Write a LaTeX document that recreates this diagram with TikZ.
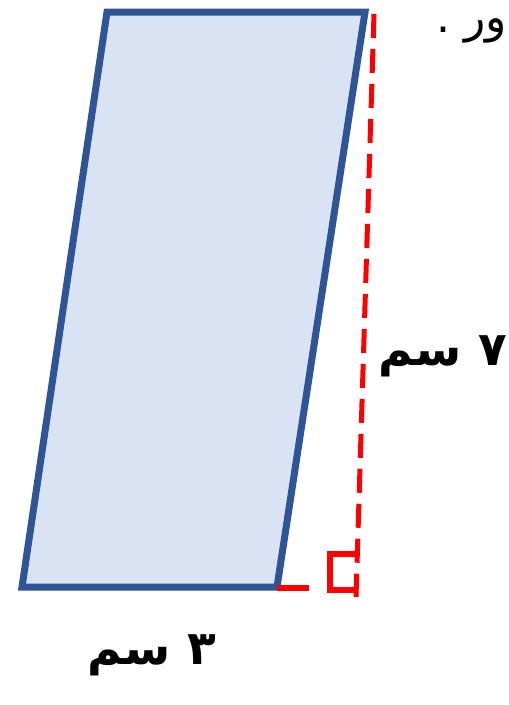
\documentclass[tikz,border=0pt]{standalone}
\usepackage{fontspec}
\TeXXeTstate=1
\newfontfamily\arabicfont[Script=Arabic]{DejaVu Sans}
\definecolor{pgblue}{HTML}{2F5597}
\definecolor{pgfill}{HTML}{DAE3F3}
\definecolor{hred}{HTML}{FF0000}
\begin{document}
\begin{tikzpicture}[x=1pt,y=-1pt,
  shapeline/.style={draw=pgblue,line width=7pt,fill=pgfill,line join=miter},
  heightline/.style={draw=hred,line width=5pt,dash pattern=on 24pt off 11pt},
  redline/.style={draw=hred,line width=6pt},
  lbl/.style={inner sep=0pt,font=\arabicfont\bfseries\fontsize{47}{50}\selectfont},
  toplbl/.style={inner sep=0pt,font=\arabicfont\fontsize{44}{48}\selectfont}]
\useasboundingbox (0,0) rectangle (509,705);
\fill[white] (0,0) rectangle (509,705);
\coordinate (A) at (107,12);
\coordinate (B) at (365,12);
\coordinate (C) at (277,587);
\coordinate (D) at (22,587);
\coordinate (H1) at (374,14);
\coordinate (H2) at (356,597);
\coordinate (E1) at (309,588);
\draw[shapeline] (A) -- (B) -- (C) -- (D) -- cycle;
\draw[heightline] (H1) -- (H2);
\draw[redline] (277,588) -- (E1);
\draw[redline] (356,554) -- (330,554) -- (330,590) -- (357,590);
\node[lbl,anchor=east] (h) at (507,356) {\beginR ٧ سم\endR};
\node[lbl] (b) at (152,655) {\beginR ٣ سم\endR};
\node[toplbl,anchor=base east] (t) at (507,32) {\beginR ور .\endR};
\end{tikzpicture}
\end{document}
